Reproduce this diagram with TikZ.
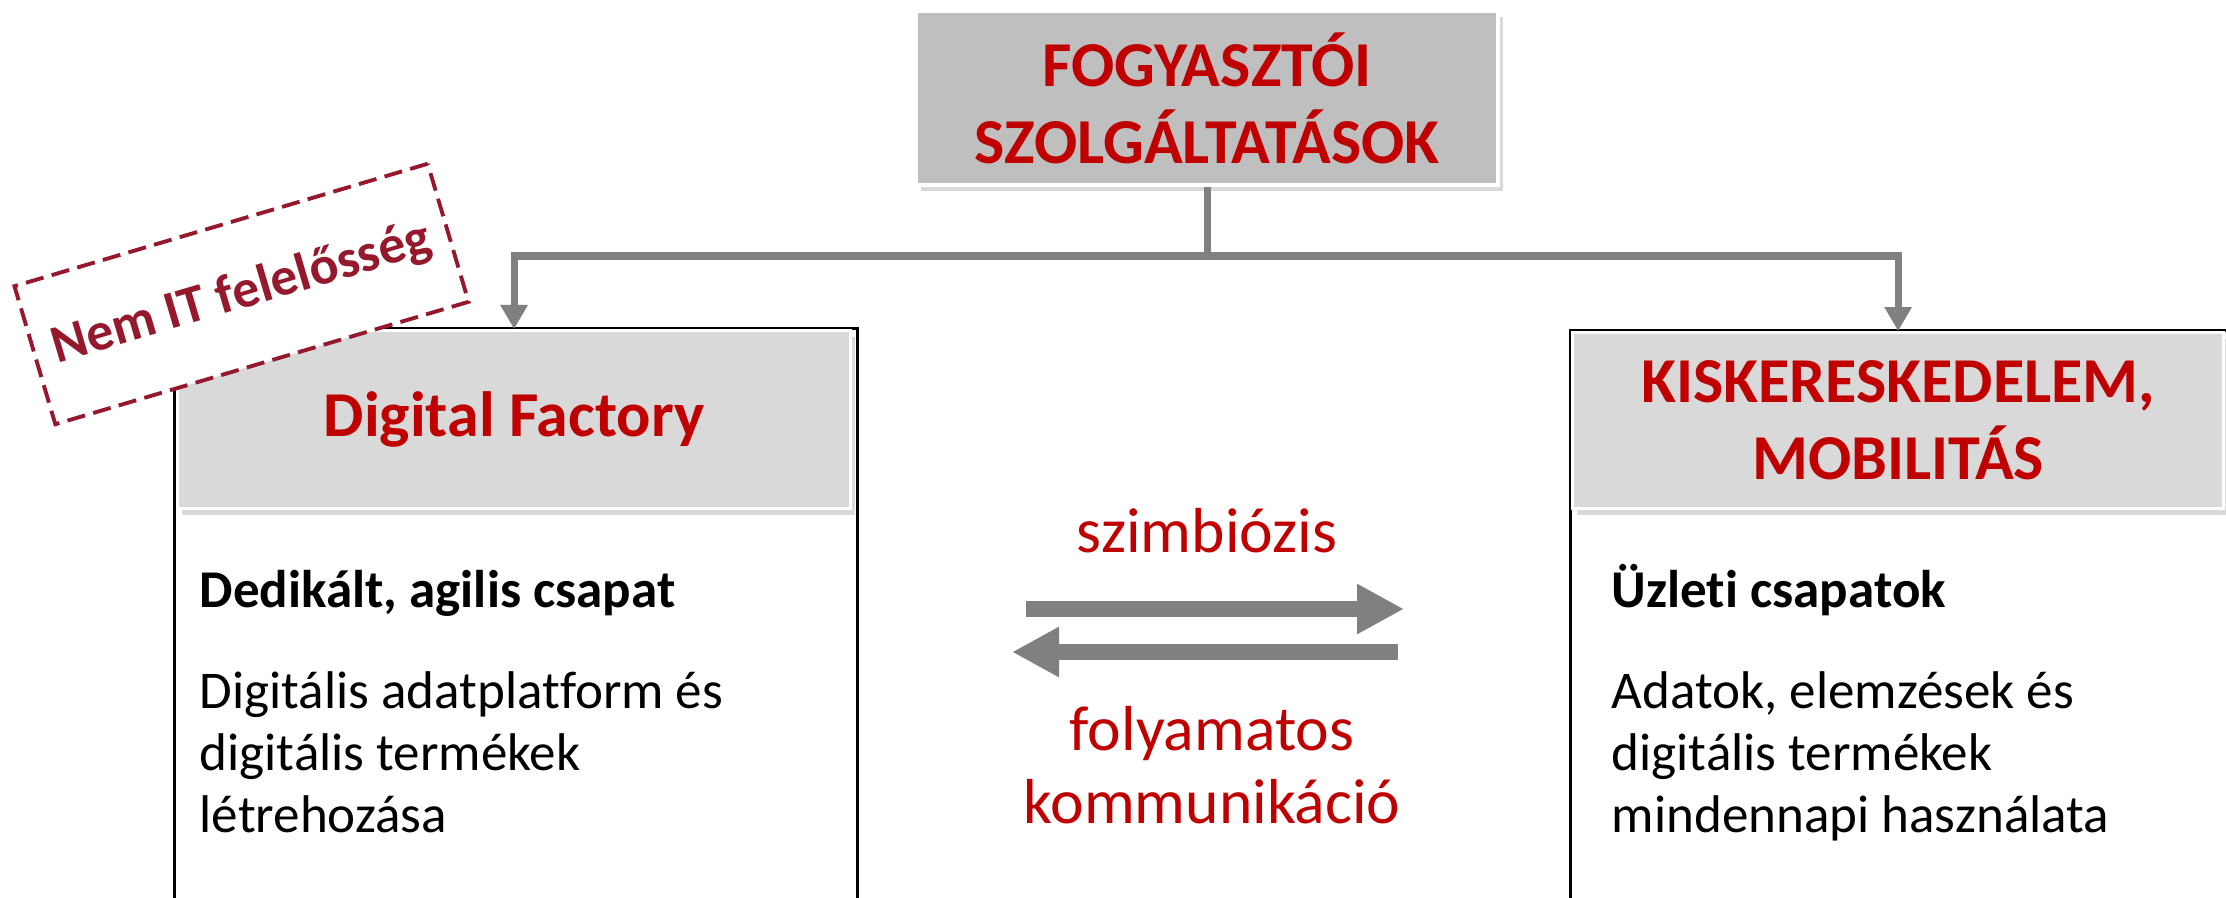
\documentclass[tikz,border=0pt]{standalone}
\usepackage{fontspec}
\setmainfont{Carlito}[Ligatures=NoCommon]
\usetikzlibrary{arrows.meta,shadows,positioning}

\definecolor{piros}{RGB}{192,0,0}
\definecolor{bordo}{RGB}{150,24,44}
\definecolor{vonalszurke}{RGB}{128,128,128}
\definecolor{topszurke}{RGB}{191,191,191}
\definecolor{fejszurke}{RGB}{217,217,217}

\tikzset{
  fej/.style={fill=fejszurke, draw=white, line width=0.9pt, inner sep=0pt,
    drop shadow={shadow xshift=0.45mm, shadow yshift=-0.6mm, opacity=0.3},
    text=piros, align=center, font=\bfseries\fontsize{18.2}{21.9}\selectfont},
  keret/.style={draw=black, line width=0.9pt, inner sep=0pt},
  torzs/.style={inner sep=0pt, align=left, font=\fontsize{15.1}{17.6}\selectfont},
  kozep/.style={inner sep=0pt, align=center, text=piros,
    font=\fontsize{18.1}{20.6}\selectfont},
  vonal/.style={draw=vonalszurke, line width=2pt},
  vastag/.style={draw=vonalszurke, line width=0.16cm,
    -{Triangle[length=0.47cm,width=0.47cm]}},
  nemit/.style={draw=bordo, fill=white, line width=1.1pt,
    dash pattern=on 5.2pt off 2.4pt, text=bordo, inner sep=0pt,
    font=\bfseries\fontsize{15.3}{18}\selectfont}
}

\begin{document}
\begin{tikzpicture}[x=1cm,y=1cm]
\pgfmathsetmacro{\W}{22.26};
\pgfmathsetmacro{\H}{8.98};
\useasboundingbox (0,0) rectangle (\W,-\H);
\clip (0,0) rectangle (\W,-\H);

% felso doboz
\node[fej, fill=topszurke, minimum width=5.82cm, minimum height=1.74cm]
  (fogy) at (12.07,-0.98) {FOGYASZTÓI\\SZOLGÁLTATÁSOK};

% bal oldal
\node[keret, anchor=north west, minimum width=6.83cm, minimum height=6.5cm]
  (df) at (1.73,-3.27) {};
\node[fej, anchor=north west, minimum width=6.73cm, minimum height=1.78cm]
  (dffej) at (1.76,-3.29) {Digital Factory};
\node[torzs, anchor=base west] (dfcsapat) at (1.99,-6.07)
  {\bfseries Dedikált, agilis csapat};
\node[torzs, anchor=north west] (dfleiras) at (1.99,-6.71)
  {Digitális adatplatform és\\digitális termékek\\létrehozása};

% jobb oldal
\node[keret, anchor=north west, minimum width=7cm, minimum height=6.5cm]
  (kk) at (15.69,-3.29) {};
\node[fej, anchor=north west, minimum width=6.51cm, minimum height=1.76cm]
  (kkfej) at (15.71,-3.31) {KISKERESKEDELEM,\\MOBILITÁS};
\node[torzs, anchor=base west] (kkcsapat) at (16.11,-6.07)
  {\bfseries Üzleti csapatok};
\node[torzs, anchor=north west] (kkleiras) at (16.11,-6.71)
  {Adatok, elemzések és\\digitális termékek\\mindennapi használata};

% osszekotes
\coordinate (eloszto) at (fogy.south |- 0,-2.56);
\draw[vonal] (fogy.south) -- (eloszto);
\draw[vonal, -{Triangle[length=0.24cm,width=0.26cm]}] (eloszto) -| (dffej.north);
\draw[vonal, -{Triangle[length=0.24cm,width=0.26cm]}] (eloszto) -| (kkfej.north);

% kozepso nyilak
\node[kozep, anchor=base] (szimb) at (12.07,-5.52) {szimbiózis};
\node[kozep, anchor=north] (kommu) at (12.12,-7.06) {folyamatos\\kommunikáció};
\coordinate (oda1) at (10.26,-6.09);
\coordinate (oda2) at (14.04,-6.09);
\coordinate (vissza1) at (13.98,-6.52);
\coordinate (vissza2) at (10.12,-6.52);
\draw[vastag] (oda1) -- (oda2);
\draw[vastag] (vissza1) -- (vissza2);

% nem IT
\node[nemit, rotate=16.5, minimum width=4.31cm, minimum height=1.44cm]
  (nemit) at (2.415,-2.94) {Nem IT felelősség};

\end{tikzpicture}
\end{document}
